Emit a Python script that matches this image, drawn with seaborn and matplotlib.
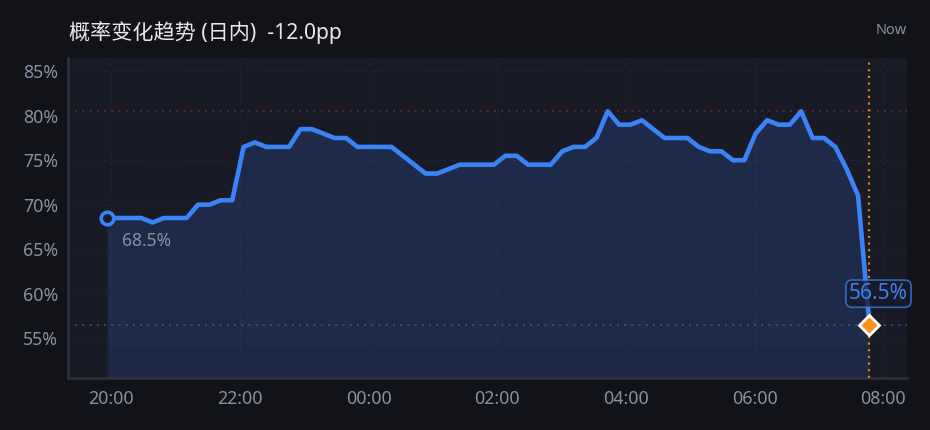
import numpy as np
import pandas as pd
import matplotlib
matplotlib.use('Agg')
import matplotlib.pyplot as plt
import matplotlib.dates as mdates
import seaborn as sns

# probability readings (%), one per sample, 19:56 -> 07:47
prob = [68.5, 68.5, 68.5, 68.5, 68.0, 68.5, 68.5, 68.5, 70.0, 70.0,
        70.5, 70.5, 76.5, 77.0, 76.5, 76.5, 76.5, 78.5, 78.5, 78.0,
        77.5, 77.5, 76.5, 76.5, 76.5, 76.5, 75.5, 74.5, 73.5, 73.5,
        74.0, 74.5, 74.5, 74.5, 74.5, 75.5, 75.5, 74.5, 74.5, 74.5,
        76.0, 76.5, 76.5, 77.5, 80.5, 79.0, 79.0, 79.5, 78.5, 77.5,
        77.5, 77.5, 76.5, 76.0, 76.0, 75.0, 75.0, 78.0, 79.5, 79.0,
        79.0, 80.5, 77.5, 77.5, 76.5, 74.0, 71.0, 56.5]
t_start = '2024-01-01 19:56'
t_end = '2024-01-02 07:47'
title = '概率变化趋势 (日内)  -12.0pp'
now_label = 'Now'
y_ticks = [55, 60, 65, 70, 75, 80, 85]

df = pd.DataFrame({'time': pd.date_range(t_start, t_end, periods=len(prob)),
                   'prob': prob})

BG = '#111318'
PANEL = '#181a25'
BLUE = '#3b82f6'
MUTED = '#8b8fa3'
ORANGE = '#f7931a'

sns.set_theme(style='dark')
plt.rcParams['font.family'] = ['Noto Sans', 'Noto Sans CJK SC', 'DejaVu Sans']

fig = plt.figure(figsize=(9.3, 4.3), dpi=100, facecolor=BG)
ax = fig.add_axes([68 / 930, 1 - 378 / 430, 839 / 930, 320 / 430])
ax.set_facecolor(PANEL)

ymin, ymax = 50.5, 86.5
ax.fill_between(df['time'], df['prob'], ymin, color=BLUE, alpha=0.15, lw=0, zorder=1)
ax.fill_between(df['time'], df['prob'], 54.0, color=BLUE, alpha=0.03, lw=0, zorder=1)
sns.lineplot(data=df, x='time', y='prob', ax=ax, color=BLUE, lw=3.3, zorder=4)

first, last = df.iloc[0], df.iloc[-1]
hi = df['prob'].max()
ax.axhline(hi, color='#8f3535', ls=(0, (1, 3)), lw=1.3, alpha=0.6, zorder=2)
ax.axhline(last['prob'], color='#3b5c9a', ls=(0, (1, 3)), lw=1.3, alpha=0.85, zorder=2)
ax.axvline(last['time'], color='#d9860f', ls=(0, (1, 2)), lw=1.6, zorder=3)

ax.plot(first['time'], first['prob'], 'o', ms=9, mfc=PANEL, mec=BLUE, mew=2.6, zorder=5)
ax.plot(last['time'], last['prob'], 'D', ms=10, mfc=ORANGE, mec='white', mew=2, zorder=6)

ax.annotate(f"{first['prob']:.1f}%", (first['time'], first['prob']),
            xytext=(15, -23), textcoords='offset pixels', ha='left', va='center',
            color=MUTED, fontsize=12.5)
ax.annotate(f"{last['prob']:.1f}%", (last['time'], last['prob']),
            xytext=(9, 31), textcoords='offset pixels', ha='center', va='center',
            color=BLUE, fontsize=15, zorder=7,
            bbox=dict(boxstyle='round,pad=0.15,rounding_size=0.3', fc=PANEL,
                      ec=BLUE, lw=1.2, alpha=0.75))

ax.set_xlim(pd.Timestamp('2024-01-01 19:19:36'), pd.Timestamp('2024-01-02 08:22'))
ax.set_ylim(ymin, ymax)
ax.xaxis.set_major_locator(mdates.HourLocator(byhour=range(0, 24, 2)))
ax.xaxis.set_major_formatter(mdates.DateFormatter('%H:%M'))
ax.set_yticks(y_ticks)
ax.set_yticklabels([f'{v}%' for v in y_ticks])
ax.set_xlabel('')
ax.set_ylabel('')
ax.tick_params(colors=MUTED, labelsize=12.8, length=0, pad=7)
ax.tick_params(axis='x', pad=9)
ax.grid(True, color='#212332', ls=(0, (4, 4)), lw=0.8)
for side in ['top', 'right']:
    ax.spines[side].set_visible(False)
for side in ['left', 'bottom']:
    ax.spines[side].set_visible(True)
    ax.spines[side].set_color('#2c2f3e')
    ax.spines[side].set_linewidth(2)

fig.text(69 / 930, 1 - 32 / 430, title, color='#e8e8ec', fontsize=15.2,
         ha='left', va='center')
fig.text(907 / 930, 1 - 30 / 430, now_label, color=MUTED, fontsize=10.5,
         ha='right', va='center')

fig.savefig('out.png', dpi=100, facecolor=BG)
